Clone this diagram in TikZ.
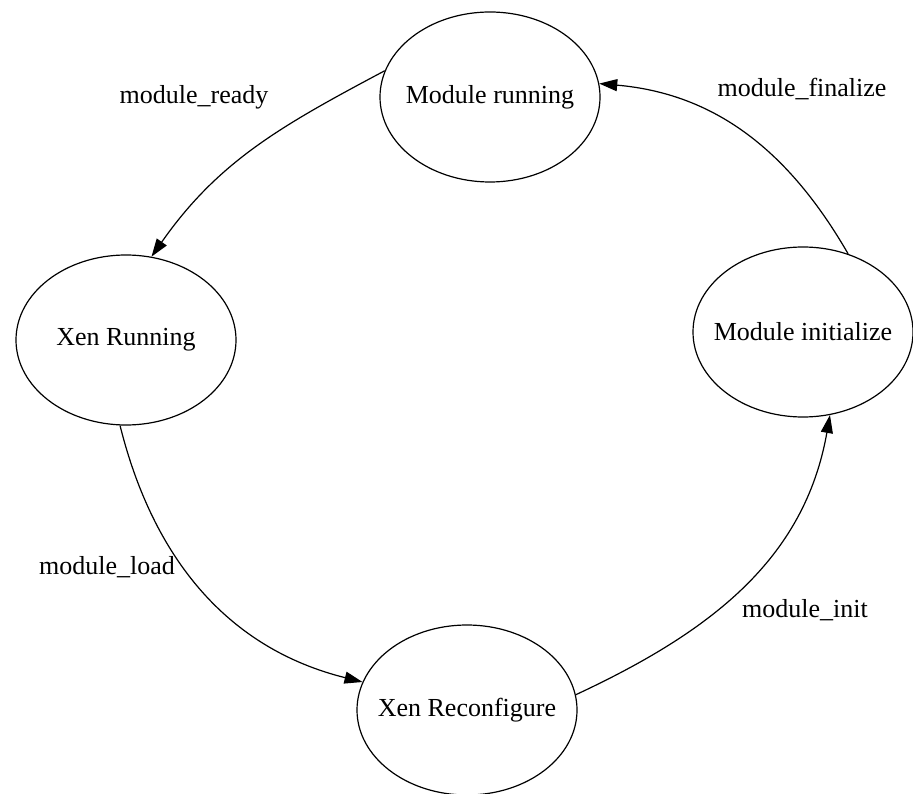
\documentclass[tikz,border=0pt]{standalone}
\usepackage{fontspec}
\setmainfont{Liberation Serif}
\usetikzlibrary{shapes.geometric,arrows.meta}

\newcommand{\stxt}[1]{\makebox[0pt]{#1}}

\begin{document}
\begin{tikzpicture}[x=0.5pt,y=0.5pt,
	state/.style={draw,ellipse,line width=0.6pt,inner sep=0pt,
		minimum width=110pt,minimum height=85pt,
		font=\fontsize{13}{15}\selectfont},
	lbl/.style={font=\fontsize{13}{15}\selectfont},
	edge/.style={line width=0.6pt,-{Triangle[length=9pt,width=6pt]}}]
		\useasboundingbox (0,0) rectangle (913,793);
		
		\node[state] (mr) at (490,696) {\stxt{Module running}};
		\node[state] (xr) at (126,453) {\stxt{Xen Running}};
		\node[state] (mi) at (803,461) {\stxt{Module initialize}};
		\node[state] (xc) at (467,83)  {\stxt{Xen Reconfigure}};
		
		\node[lbl] (lready) at (194,696) {module\_ready};
		\node[lbl] (lload)  at (107,226) {module\_load};
		\node[lbl] (linit)  at (805,183) {module\_init};
		\node[lbl] (lfin)   at (802,704) {module\_finalize};
		
		\draw[edge] (mr.166) to[out=208,in=55]  (xr.73);
		\draw[edge] (xr.266) to[out=284,in=166] (xc.165);
		\draw[edge] (xc.8)   to[out=25,in=260]  (mi.288);
		\draw[edge] (mi.60)  to[out=120,in=-5]  (mr.7);
		\end{tikzpicture}
\end{document}
